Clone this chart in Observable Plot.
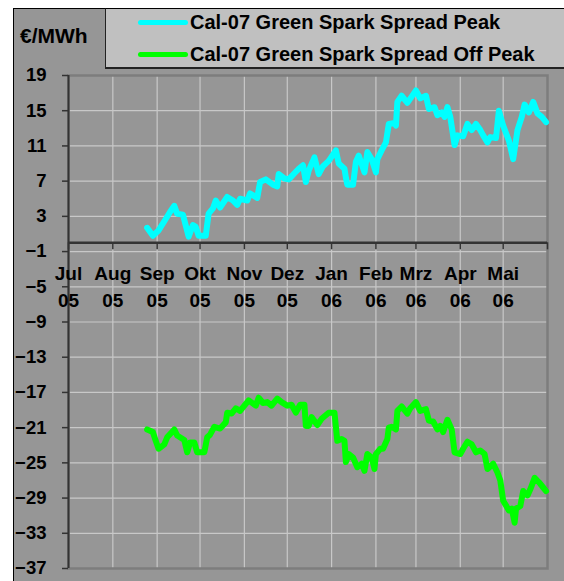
<!DOCTYPE html>
<html><head><meta charset="utf-8">
<script src="https://cdn.jsdelivr.net/npm/d3@7"></script>
<script src="https://cdn.jsdelivr.net/npm/@observablehq/plot@0.6"></script>
<style>
html,body{margin:0;padding:0;background:#fff;}
#wrap{position:relative;width:564px;height:581px;overflow:hidden;font-family:"Liberation Sans",Arial,sans-serif;font-weight:bold;color:#000;}
#frame{position:absolute;left:13px;top:8px;width:600px;height:600px;border:1.5px solid #000;background:#969696;box-sizing:border-box;}
#unit{position:absolute;left:20px;top:24px;font-size:21px;line-height:24px;white-space:nowrap;}
#legend{position:absolute;left:105px;top:8px;width:500px;height:61px;background:#c0c0c0;border-left:1.5px solid #222;border-bottom:2px solid #222;border-top:1.5px solid #000;box-sizing:border-box;}
.sw{position:absolute;left:32px;width:50px;height:5px;border-radius:3px;}
.lt{position:absolute;left:84px;font-size:20px;line-height:24px;white-space:nowrap;}
#chart{position:absolute;left:0;top:0;}
</style></head>
<body>
<div id="wrap">
  <div id="frame"></div>
  <div id="unit">€/MWh</div>
  <div id="legend"></div>
  <div id="chart"></div>
</div>
<script>
const seriesNames = ["Cal-07 Green Spark Spread Peak", "Cal-07 Green Spark Spread Off Peak"];
const seriesColors = ["#00ffff", "#00ff00"];
const unitLabel = "€/MWh";

const monthNames = ["Jul","Aug","Sep","Okt","Nov","Dez","Jan","Feb","Mrz","Apr","Mai"];
const yearLabels = ["05","05","05","05","05","05","06","06","06","06","06"];
const monthStarts = ["2005-07-01","2005-08-01","2005-09-01","2005-10-01","2005-11-01","2005-12-01","2006-01-01","2006-02-01","2006-03-01","2006-04-01","2006-05-01","2006-06-01"];
const yTicks = [19,15,11,7,3,-1,-5,-9,-13,-17,-21,-25,-29,-33,-37];

const peakDates = ["2005-08-25","2005-08-29","2005-09-02","2005-09-07","2005-09-10","2005-09-13","2005-09-15","2005-09-19","2005-09-23","2005-09-26","2005-09-28","2005-09-30","2005-10-05","2005-10-07","2005-10-10","2005-10-12","2005-10-15","2005-10-20","2005-10-24","2005-10-27","2005-10-29","2005-11-03","2005-11-05","2005-11-10","2005-11-12","2005-11-16","2005-11-21","2005-11-24","2005-11-25","2005-11-29","2005-12-02","2005-12-06","2005-12-09","2005-12-12","2005-12-14","2005-12-16","2005-12-20","2005-12-23","2005-12-26","2005-12-30","2006-01-04","2006-01-06","2006-01-10","2006-01-11","2006-01-12","2006-01-16","2006-01-18","2006-01-20","2006-01-24","2006-01-26","2006-01-29","2006-02-01","2006-02-02","2006-02-05","2006-02-08","2006-02-10","2006-02-14","2006-02-15","2006-02-16","2006-02-19","2006-02-23","2006-02-26","2006-03-01","2006-03-04","2006-03-08","2006-03-10","2006-03-14","2006-03-16","2006-03-19","2006-03-21","2006-03-23","2006-03-25","2006-03-28","2006-03-30","2006-04-03","2006-04-06","2006-04-09","2006-04-12","2006-04-15","2006-04-17","2006-04-20","2006-04-22","2006-04-26","2006-04-28","2006-05-01","2006-05-05","2006-05-08","2006-05-11","2006-05-14","2006-05-16","2006-05-19","2006-05-22","2006-05-25","2006-05-28","2006-05-31"];
const peakValues = [1.7,0.8,1.4,2.7,3.5,4.2,3.3,3.2,0.7,2.0,1.8,0.8,0.8,3.3,3.9,4.8,4.0,5.2,4.8,4.3,5.0,4.8,5.6,5.1,6.9,7.2,6.6,6.4,7.8,7.3,7.2,7.9,8.4,8.8,6.9,8.2,9.7,7.8,8.7,9.3,10.5,9.0,8.4,7.4,6.6,6.6,9.2,9.9,8.0,10.3,9.5,8.0,9.5,10.5,11.4,13.5,13.6,13.3,16.0,16.7,15.9,16.6,17.3,16.4,16.7,15.2,15.4,14.5,14.8,14.3,15.4,14.3,11.1,12.2,12.1,13.5,12.8,13.5,12.8,12.2,11.4,12.0,11.9,15.0,13.3,11.6,9.5,12.8,14.3,15.7,14.8,16.0,14.7,14.3,13.7];

const offDates = ["2005-08-25","2005-08-29","2005-08-31","2005-09-02","2005-09-06","2005-09-08","2005-09-13","2005-09-15","2005-09-20","2005-09-22","2005-09-24","2005-09-27","2005-09-29","2005-10-04","2005-10-06","2005-10-08","2005-10-11","2005-10-15","2005-10-19","2005-10-20","2005-10-23","2005-10-26","2005-10-29","2005-11-01","2005-11-04","2005-11-09","2005-11-11","2005-11-14","2005-11-17","2005-11-20","2005-11-24","2005-11-27","2005-12-01","2005-12-04","2005-12-07","2005-12-10","2005-12-13","2005-12-14","2005-12-16","2005-12-18","2005-12-22","2005-12-25","2005-12-30","2006-01-03","2006-01-05","2006-01-08","2006-01-10","2006-01-11","2006-01-13","2006-01-16","2006-01-19","2006-01-22","2006-01-24","2006-01-26","2006-01-29","2006-01-31","2006-02-01","2006-02-04","2006-02-06","2006-02-09","2006-02-10","2006-02-12","2006-02-15","2006-02-16","2006-02-19","2006-02-23","2006-02-25","2006-03-01","2006-03-04","2006-03-08","2006-03-10","2006-03-13","2006-03-16","2006-03-18","2006-03-20","2006-03-23","2006-03-26","2006-03-28","2006-04-01","2006-04-03","2006-04-06","2006-04-09","2006-04-12","2006-04-15","2006-04-18","2006-04-20","2006-04-24","2006-04-27","2006-04-29","2006-05-01","2006-05-05","2006-05-07","2006-05-09","2006-05-10","2006-05-13","2006-05-15","2006-05-18","2006-05-20","2006-05-23","2006-05-26","2006-05-29","2006-05-31"];
const offValues = [-21.2,-21.5,-22.5,-23.4,-22.9,-22.1,-21.2,-21.9,-22.4,-23.8,-22.7,-22.7,-23.8,-23.8,-22.1,-21.8,-20.9,-21.1,-20.4,-19.3,-19.4,-18.8,-19.1,-18.5,-17.9,-18.5,-17.6,-18.2,-18.1,-18.5,-17.7,-18.1,-18.5,-18.4,-19.3,-18.4,-18.4,-20.8,-20.8,-19.8,-20.7,-20.0,-19.3,-19.3,-22.5,-22.3,-22.5,-24.9,-24.0,-24.4,-25.5,-25.1,-25.9,-24.0,-24.4,-25.7,-24.0,-23.4,-23.4,-22.3,-21.0,-20.9,-21.2,-19.1,-18.6,-19.4,-18.8,-18.1,-19.1,-18.9,-20.2,-20.3,-21.2,-20.8,-21.5,-20.1,-21.2,-23.8,-24.0,-23.4,-22.6,-22.9,-23.8,-23.6,-24.0,-25.7,-25.1,-26.1,-27.0,-29.3,-30.4,-30.2,-31.8,-30.2,-29.9,-28.2,-28.7,-28.0,-26.7,-27.2,-27.8,-28.2];

// Legend (HTML)
const legend = document.getElementById("legend");
seriesNames.forEach((name, i) => {
  const cy = i === 0 ? 13 : 45;
  const sw = document.createElement("div");
  sw.className = "sw"; sw.style.top = (cy - 2.5) + "px"; sw.style.background = seriesColors[i];
  const t = document.createElement("div");
  t.className = "lt"; t.style.top = (cy - 12) + "px"; t.textContent = name;
  legend.appendChild(sw); legend.appendChild(t);
});
document.getElementById("unit").textContent = unitLabel;

const parse = s => new Date(s + "T00:00:00Z");
const peak = peakDates.map((d, i) => ({date: parse(d), value: peakValues[i]}));
const off = offDates.map((d, i) => ({date: parse(d), value: offValues[i]}));
const months = monthStarts.map(parse);
const labels = monthNames.map((m, i) => ({date: months[i], m, yr: yearLabels[i]}));

const chart = Plot.plot({
  width: 564,
  height: 581,
  marginLeft: 68,
  marginTop: 75,
  marginRight: 17,
  marginBottom: 13,
  style: {background: "transparent", fontFamily: "'Liberation Sans', Arial, sans-serif", color: "#000", overflow: "visible"},
  x: {type: "utc", domain: [months[0], months[months.length - 1]], axis: null},
  y: {domain: [-37, 19]},
  marks: [
    Plot.ruleY(yTicks, {stroke: "#c8c8c8", strokeWidth: 1.2}),
    Plot.ruleX(months.slice(1, -1), {stroke: "#c8c8c8", strokeWidth: 1.2}),
    Plot.frame({stroke: "#7d7d7d", strokeWidth: 2.5}),
    Plot.ruleX([months[0]], {stroke: "#333", strokeWidth: 2}),
    Plot.axisY(yTicks, {tickSize: 6, tickPadding: 16, fontSize: 18.5, fontWeight: "bold", fill: "#000", stroke: "#333", strokeWidth: 1.5, label: null}),
    Plot.ruleY([0], {stroke: "#333", strokeWidth: 2.5}),
    Plot.ruleX(months, {y1: 0, y2: -0.8, stroke: "#333", strokeWidth: 1.5}),
    Plot.text(labels, {x: "date", y: 0, text: "m", dy: 31, fontSize: 19, fontWeight: "bold", fill: "#000"}),
    Plot.text(labels, {x: "date", y: 0, text: "yr", dy: 58, fontSize: 19, fontWeight: "bold", fill: "#000"}),
    Plot.line(off, {x: "date", y: "value", stroke: seriesColors[1], strokeWidth: 6, strokeLinejoin: "round", strokeLinecap: "round"}),
    Plot.line(peak, {x: "date", y: "value", stroke: seriesColors[0], strokeWidth: 6, strokeLinejoin: "round", strokeLinecap: "round"})
  ]
});
document.getElementById("chart").appendChild(chart);
</script>
</body></html>
